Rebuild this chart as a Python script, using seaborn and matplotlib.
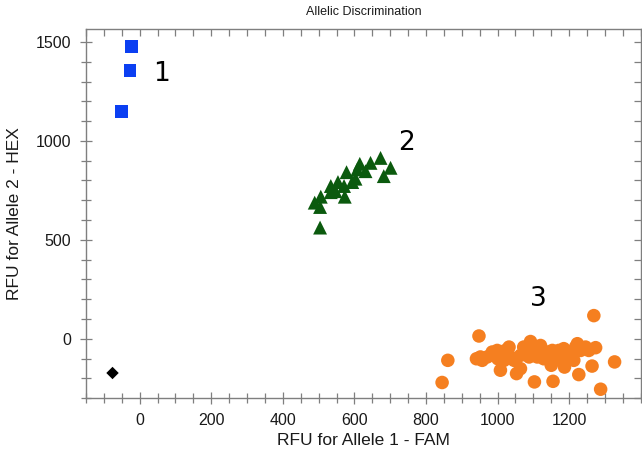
import numpy as np
import pandas as pd
import matplotlib
matplotlib.use("Agg")
import matplotlib.pyplot as plt
from matplotlib.ticker import MultipleLocator, FixedLocator
import seaborn as sns

sns.set_style("white")
plt.rcParams['font.family'] = ['Liberation Sans', 'DejaVu Sans']

# ---- data ----
blue_x = [-23, -27, -51]
blue_y = [1476, 1355, 1148]

green_x = [673, 645, 615, 701, 608, 631, 578, 682, 603, 594, 554, 571, 534, 547, 534, 573, 506, 489, 504, 504]
green_y = [914, 889, 884, 864, 856, 847, 842, 822, 809, 792, 792, 772, 772, 746, 741, 718, 718, 688, 666, 562]

orange_x = [1269, 948, 861, 845, 1327, 1288, 1103, 1155, 1227, 1264, 1187, 1150, 1064, 1053, 1008,
            941, 957, 971, 985, 992, 1001, 1013, 1022, 1032, 1036, 1046, 1073, 1083, 1092, 1101,
            1111, 1120, 1129, 1139, 1153, 1157, 1185, 1194, 1209, 1218, 1223, 1246, 1255, 1274,
            1213, 1176, 952, 1018, 1064, 1115, 1171, 1232, 999, 1025, 1088]
orange_y = [117, 14, -109, -221, -117, -255, -218, -215, -181, -138, -143, -134, -151, -176, -159,
            -101, -109, -92, -67, -84, -101, -75, -59, -42, -92, -109, -42, -75, -14, -59,
            -92, -34, -101, -67, -59, -84, -50, -84, -67, -42, -25, -42, -59, -45,
            -109, -101, -92, -109, -84, -67, -59, -59, -59, -84, -92]

black_x = [-76]
black_y = [-173]

group_labels = ["1", "2", "3"]
label_x = [60, 745, 1115]
label_y = [1340, 990, 200]

x_ticks = [0, 200, 400, 600, 800, 1000, 1200]
y_ticks = [0, 500, 1000, 1500]

df = pd.DataFrame({
    "x": blue_x + green_x + orange_x + black_x,
    "y": blue_y + green_y + orange_y + black_y,
    "group": (["blue"] * len(blue_x) + ["green"] * len(green_x)
              + ["orange"] * len(orange_x) + ["ntc"] * len(black_x)),
})

palette = {"blue": "#0B3FF2", "green": "#0B5A0E", "orange": "#F57F20", "ntc": "#000000"}
markers = {"blue": "s", "green": "^", "orange": "o", "ntc": "D"}
sizes = {"blue": 85, "green": 100, "orange": 95, "ntc": 40}

fig = plt.figure(figsize=(6.42, 4.55), dpi=100)
ax = fig.add_axes([0.134, 0.125, 0.864, 0.811])

for g in ["orange", "green", "blue", "ntc"]:
    sub = df[df.group == g]
    sns.scatterplot(data=sub, x="x", y="y", color=palette[g], marker=markers[g],
                    s=sizes[g], edgecolor="none", linewidth=0, ax=ax, legend=False)

for t, lx, ly in zip(group_labels, label_x, label_y):
    ax.text(lx, ly, t, fontsize=19, family="DejaVu Sans", ha="center", va="center", color="black")

ax.set_xlim(-150, 1400)
ax.set_ylim(-300, 1565)

ax.xaxis.set_major_locator(FixedLocator(x_ticks))
ax.xaxis.set_minor_locator(MultipleLocator(50))
ax.yaxis.set_major_locator(FixedLocator(y_ticks))
ax.yaxis.set_minor_locator(MultipleLocator(100))

spine_col = "#7f7f7f"
for sp in ax.spines.values():
    sp.set_color(spine_col)
    sp.set_linewidth(1.0)

ax.tick_params(axis="both", which="major", direction="inout", length=9, width=0.9,
               color=spine_col, labelsize=11.5, labelcolor="#1a1a1a", pad=6,
               bottom=True, left=True, top=False, right=False)
ax.tick_params(axis="both", which="minor", direction="inout", length=7, width=0.9, color=spine_col,
               bottom=True, left=True, top=False, right=False)

# top & right inward ticks
secx = ax.secondary_xaxis("top")
secx.xaxis.set_major_locator(MultipleLocator(50))
secx.tick_params(direction="in", length=5, width=0.9, color=spine_col, labeltop=False, top=True)
secx.spines["top"].set_visible(False)
secy = ax.secondary_yaxis("right")
secy.yaxis.set_major_locator(MultipleLocator(100))
secy.tick_params(direction="in", length=5, width=0.9, color=spine_col, labelright=False, right=True)
secy.spines["right"].set_visible(False)

ax.set_xlabel("RFU for Allele 1 - FAM", fontsize=12.5, color="#1a1a1a", labelpad=4)
ax.set_ylabel("RFU for Allele 2 - HEX", fontsize=12.5, color="#1a1a1a", labelpad=10)
ax.set_title("Allelic Discrimination", fontsize=9, color="#1a1a1a", pad=10)

fig.savefig("out.png", dpi=100)
